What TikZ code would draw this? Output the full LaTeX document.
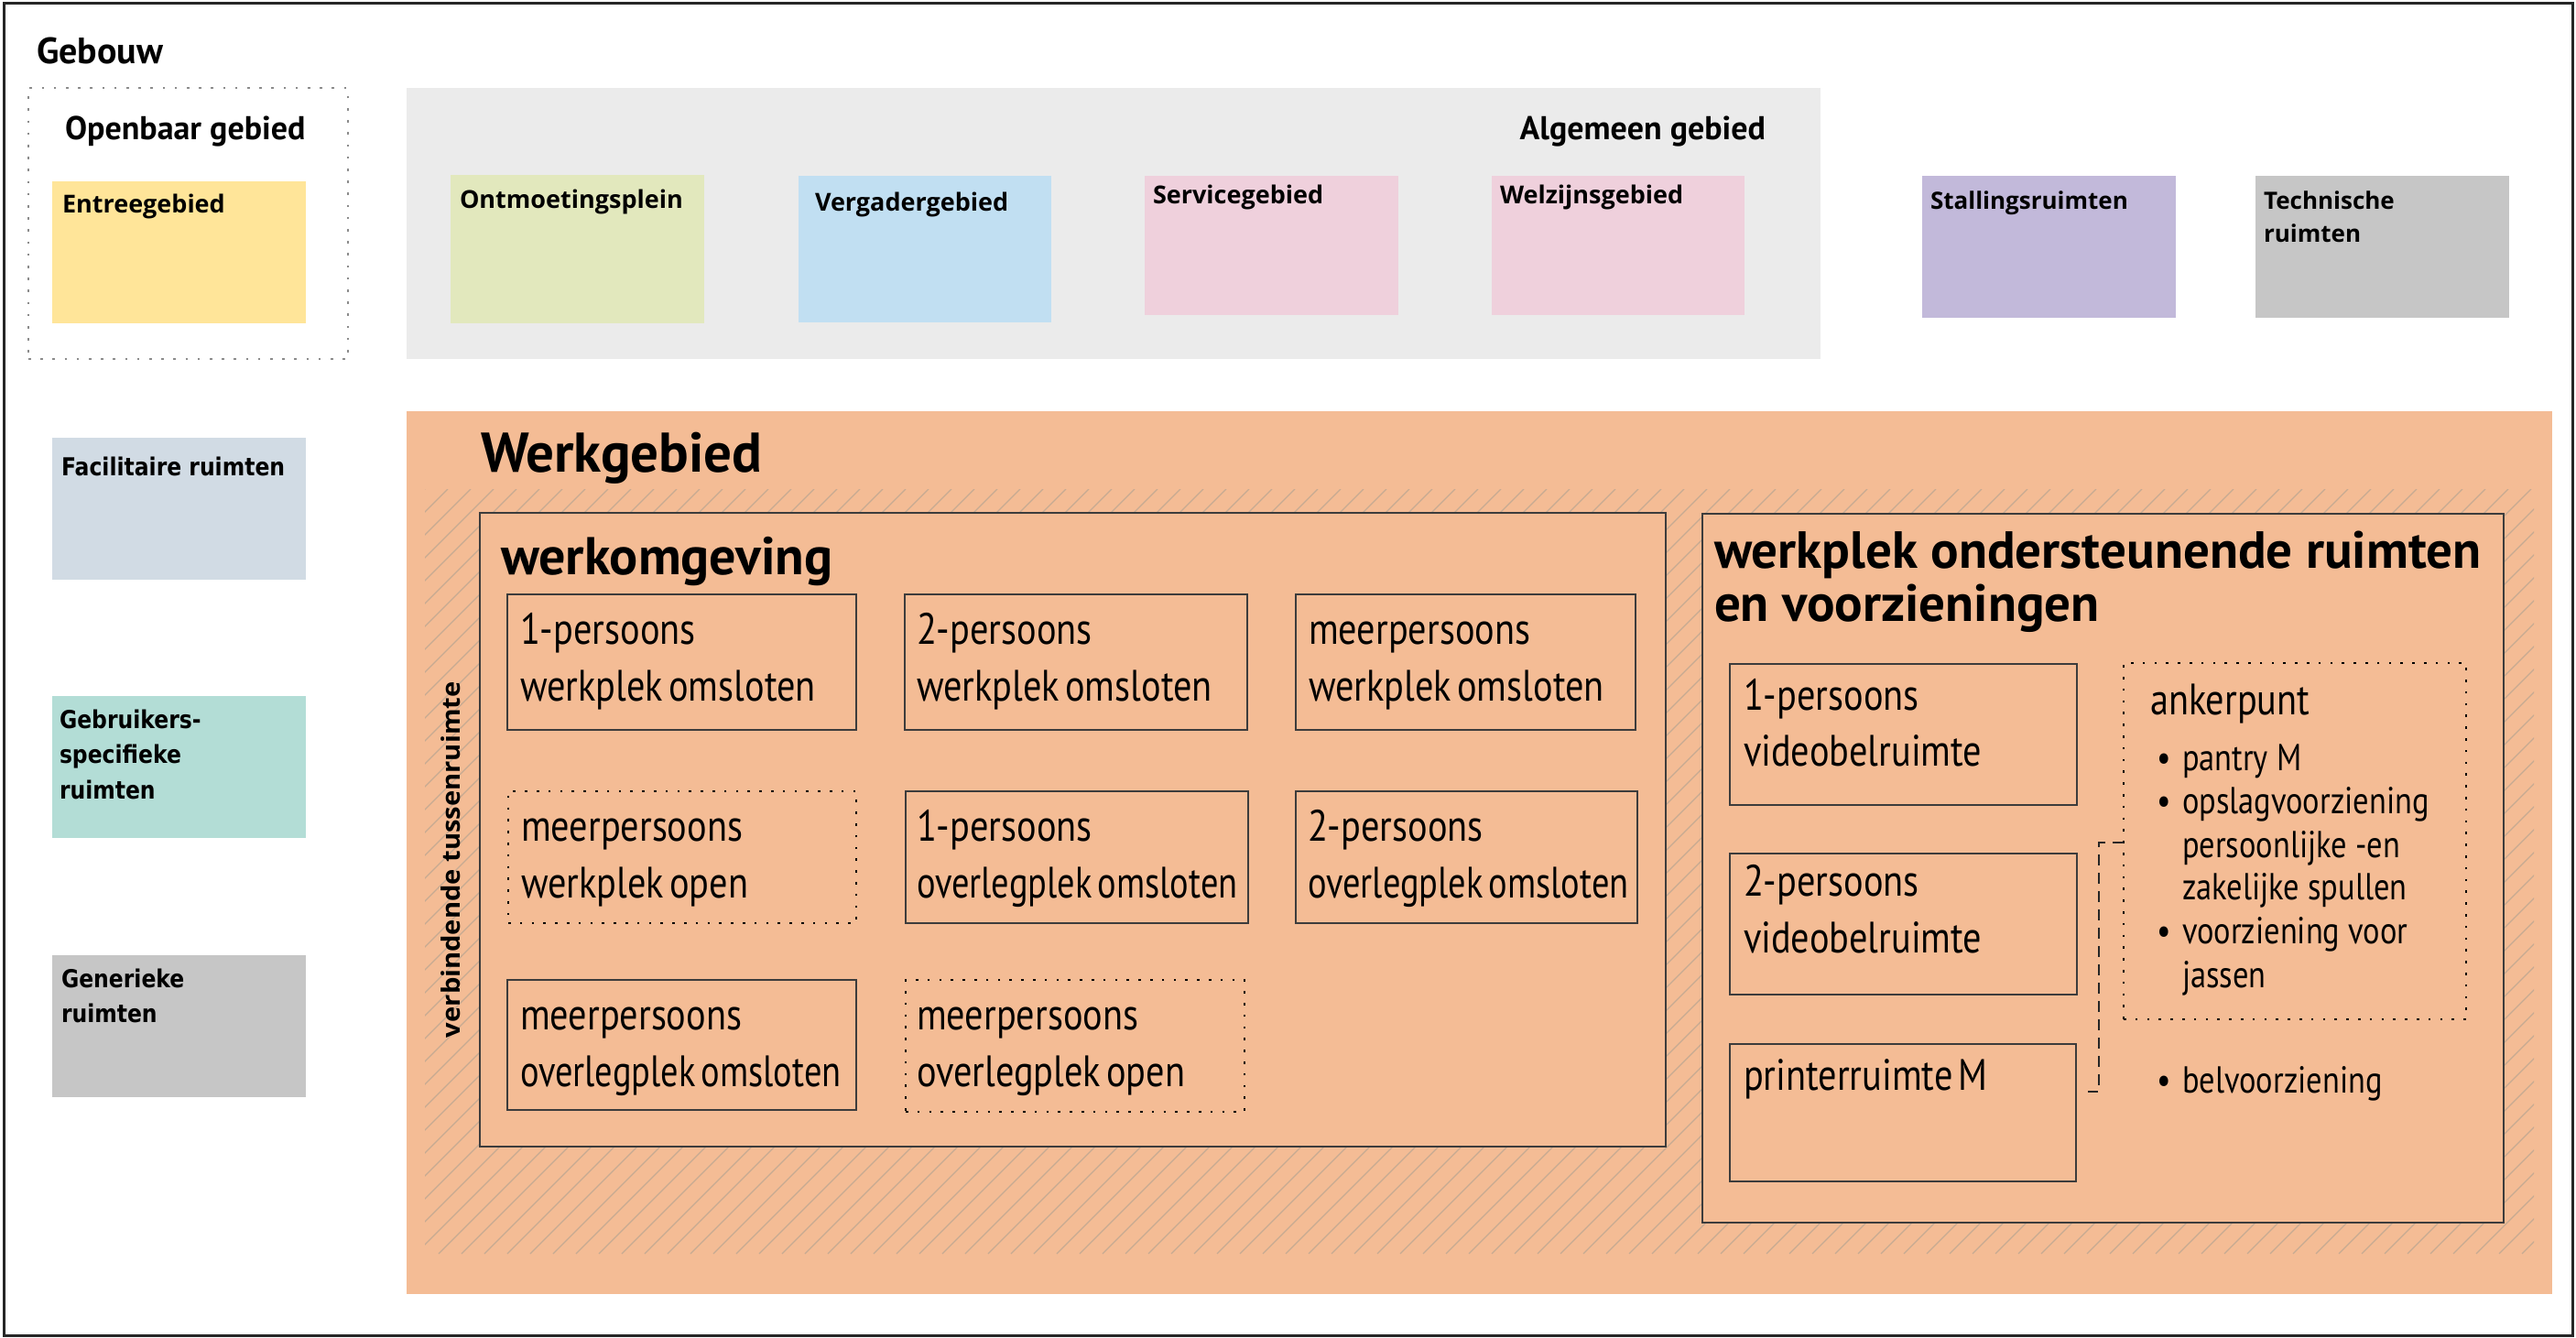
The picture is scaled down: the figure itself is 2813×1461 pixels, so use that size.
\documentclass[tikz,border=0pt]{standalone}
\usepackage{fontspec}
\newfontfamily\rs[FakeStretch=0.84]{PT Sans}
\newfontfamily\rsn[FakeStretch=0.80]{PT Sans}
\newfontfamily\ptb{PT Sans}
\newfontfamily\osb{Open Sans}
\newfontfamily\osv[FakeStretch=1.06]{Open Sans}
\newfontfamily\vdb[FakeStretch=0.87]{DejaVu Sans}
\newcommand\tightsp{\spaceskip=0.13em\relax}
\usetikzlibrary{calc}
\definecolor{cEntree}{HTML}{FFE599}
\definecolor{cOntm}{HTML}{E2E8BD}
\definecolor{cVerg}{HTML}{C1DFF2}
\definecolor{cServ}{HTML}{EFD0DC}
\definecolor{cStal}{HTML}{C2B9DA}
\definecolor{cTech}{HTML}{C6C6C6}
\definecolor{cFac}{HTML}{D1DBE4}
\definecolor{cGebr}{HTML}{B3DDD6}
\definecolor{cAlg}{HTML}{EBEBEB}
\definecolor{cOr}{HTML}{F4BC95}
\definecolor{cHatch}{HTML}{C6AA92}
\definecolor{cLine}{HTML}{3C3C3C}
\begin{document}
\begin{tikzpicture}[x=1pt,y=-1pt,
  zone/.style={rectangle, inner sep=0pt, outer sep=0pt, anchor=north west, draw=none},
  ibox/.style={zone, fill=cOr, draw=cLine, line width=1.8pt},
  dotbox/.style={zone, draw=black, line width=2.6pt, dash pattern=on 2.6pt off 10.2pt},
  dotgray/.style={zone, draw=black!45, line width=2.6pt, dash pattern=on 2.6pt off 10.6pt},
  hatchline/.style={draw=cHatch, line width=1.2pt},
  dashcon/.style={draw=black!85, line width=2pt, dash pattern=on 12pt off 8pt},
  txt/.style={inner sep=0pt, outer sep=0pt, anchor=base west},
  boxtxt/.style={txt, font={\rs\fontsize{48}{58}\selectfont\tightsp}},
  boxtxtn/.style={txt, font={\rsn\fontsize{48}{58}\selectfont\tightsp}},
  bultxt/.style={txt, font={\rs\fontsize{41}{48}\selectfont}},
  lbl/.style={txt, font={\osb\bfseries\fontsize{27}{32}\selectfont}},
  leftlbl/.style={txt, font={\vdb\bfseries\fontsize{27}{32}\selectfont}},
  headA/.style={txt, font={\ptb\bfseries\fontsize{36}{42}\selectfont}},
  headB/.style={txt, font={\ptb\bfseries\fontsize{57}{62}\selectfont}},
]
\useasboundingbox (0,0) rectangle (2813,1461);
% outer frame
\node[zone, draw=black!85, line width=3pt, minimum width=2804.5, minimum height=1455] (frame) at (4.5,3.5) {};
\node[txt, font={\ptb\bfseries\fontsize{40}{46}\selectfont}] (gebouw) at (40,70) {Gebouw};

% openbaar gebied
\node[dotgray, minimum width=349, minimum height=296] (openb) at (31,96) {};
\node[headA] (openbT) at (71,153) {Openbaar gebied};
\node[zone, fill=cEntree, minimum width=277, minimum height=155] (entree) at (57,198) {};
\node[lbl] (entreeT) at (68,232) {Entreegebied};

% algemeen gebied
\node[zone, fill=cAlg, minimum width=1544, minimum height=296] (alg) at (444,96) {};
\node[headA, anchor=base east] (algT) at (1928,153) {Algemeen gebied};
\node[zone, fill=cOntm, minimum width=277, minimum height=162] (ontm) at (492,191) {};
\node[lbl] (ontmT) at (502,227) {Ontmoetingsplein};
\node[zone, fill=cVerg, minimum width=276, minimum height=160] (verg) at (872,192) {};
\node[lbl] (vergT) at (890,230) {Vergadergebied};
\node[zone, fill=cServ, minimum width=277, minimum height=152] (serv) at (1250,192) {};
\node[lbl] (servT) at (1259,222) {Servicegebied};
\node[zone, fill=cServ, minimum width=276, minimum height=152] (welz) at (1629,192) {};
\node[lbl] (welzT) at (1638,222) {Welzijnsgebied};

% stalling / technische
\node[zone, fill=cStal, minimum width=277, minimum height=155] (stal) at (2099,192) {};
\node[lbl, font={\osb\bfseries\fontsize{26}{32}\selectfont}] (stalT) at (2108,228) {Stallingsruimten};
\node[zone, fill=cTech, minimum width=277, minimum height=155] (tech) at (2463,192) {};
\node[lbl, font={\osb\bfseries\fontsize{26}{32}\selectfont}] (techT1) at (2472,228) {Technische};
\node[lbl, font={\osb\bfseries\fontsize{26}{32}\selectfont}] (techT2) at (2472,264) {ruimten};

% left column
\node[zone, fill=cFac, minimum width=277, minimum height=155] (fac) at (57,478) {};
\node[leftlbl] (facT) at (67,519) {Facilitaire ruimten};
\node[zone, fill=cGebr, minimum width=277, minimum height=155] (gebr) at (57,760) {};
\node[leftlbl] (gebrT1) at (65,795) {Gebruikers-};
\node[leftlbl] (gebrT2) at (65,833) {specifieke};
\node[leftlbl] (gebrT3) at (65,872) {ruimten};
\node[zone, fill=cTech, minimum width=277, minimum height=155] (gen) at (57,1043) {};
\node[leftlbl] (genT1) at (67,1078) {Generieke};
\node[leftlbl] (genT2) at (67,1116) {ruimten};

% werkgebied
\node[zone, fill=cOr, minimum width=2343, minimum height=964] (werk) at (444,449) {};
\node[txt, font={\ptb\bfseries\fontsize{61}{70}\selectfont}] (werkT) at (525,515) {Werkgebied};
\begin{scope}
  \clip (464,534) rectangle (2767,1369);
  \foreach \i in {0,...,126} \draw[hatchline] ({-371+\i*25},1369) -- ++(835,-835);
\end{scope}
\node[txt, rotate=90, font={\osv\bfseries\fontsize{27.5}{32}\selectfont}] (verb) at (502,1133) {verbindende tussenruimte};

% werkomgeving
\node[ibox, minimum width=1295, minimum height=692] (wo) at (524,560) {};
\node[headB, font={\ptb\bfseries\fontsize{58}{62}\selectfont}] (woT) at (547,627) {werkomgeving};
\node[ibox, minimum width=381, minimum height=148] (a1) at (554,649) {};
\node[boxtxt] (a1t1) at (568,703) {1-persoons};
\node[boxtxt] (a1t2) at (568,765) {werkplek omsloten};
\node[ibox, minimum width=374, minimum height=148] (b1) at (988,649) {};
\node[boxtxt] (b1t1) at (1001,703) {2-persoons};
\node[boxtxt] (b1t2) at (1001,765) {werkplek omsloten};
\node[ibox, minimum width=371, minimum height=148] (c1) at (1415,649) {};
\node[boxtxt] (c1t1) at (1429,703) {meerpersoons};
\node[boxtxt] (c1t2) at (1429,765) {werkplek omsloten};
\node[dotbox, minimum width=380, minimum height=144] (a2) at (555,864) {};
\node[boxtxt] (a2t1) at (569,918) {meerpersoons};
\node[boxtxt] (a2t2) at (569,980) {werkplek open};
\node[ibox, minimum width=374, minimum height=144] (b2) at (989,864) {};
\node[boxtxt] (b2t1) at (1001,918) {1-persoons};
\node[boxtxtn] (b2t2) at (1001,980) {overlegplek omsloten};
\node[ibox, minimum width=373, minimum height=144] (c2) at (1415,864) {};
\node[boxtxt] (c2t1) at (1428,918) {2-persoons};
\node[boxtxtn] (c2t2) at (1428,980) {overlegplek omsloten};
\node[ibox, minimum width=381, minimum height=142] (a3) at (554,1070) {};
\node[boxtxt] (a3t1) at (568,1124) {meerpersoons};
\node[boxtxtn] (a3t2) at (568,1186) {overlegplek omsloten};
\node[dotbox, minimum width=370, minimum height=144] (b3) at (989,1070) {};
\node[boxtxt] (b3t1) at (1001,1124) {meerpersoons};
\node[boxtxt] (b3t2) at (1001,1186) {overlegplek open};

% werkplek ondersteunende ruimten
\node[ibox, minimum width=875, minimum height=774] (wp) at (1859,561) {};
\node[headB] (wpT1) at (1872,620) {werkplek ondersteunende ruimten};
\node[headB] (wpT2) at (1872,678) {en voorzieningen};
\node[ibox, minimum width=379, minimum height=154] (v1) at (1889,725) {};
\node[boxtxt] (v1t1) at (1904,775) {1-persoons};
\node[boxtxt] (v1t2) at (1904,836) {videobelruimte};
\node[ibox, minimum width=379, minimum height=154] (v2) at (1889,932) {};
\node[boxtxt] (v2t1) at (1904,978) {2-persoons};
\node[boxtxt] (v2t2) at (1904,1040) {videobelruimte};
\node[ibox, minimum width=378, minimum height=150] (pr) at (1889,1140) {};
\node[boxtxt] (prt) at (1904,1190) {printerruimte M};
\node[dotbox, minimum width=374, minimum height=389] (anker) at (2319,724) {};
\node[boxtxt] (ankerT) at (2348,780) {ankerpunt};
\node[bultxt] (bu1) at (2355,841) {\makebox[28pt][l]{•}pantry M};
\node[bultxt] (bu2) at (2355,888) {\makebox[28pt][l]{•}opslagvoorziening};
\node[bultxt] (bu3) at (2383,936) {persoonlijke -en};
\node[bultxt] (bu4) at (2383,982) {zakelijke spullen};
\node[bultxt] (bu5) at (2355,1030) {\makebox[28pt][l]{•}voorziening voor};
\node[bultxt] (bu6) at (2383,1078) {jassen};
\node[bultxt] (bu7) at (2355,1193) {\makebox[28pt][l]{•}belvoorziening};
\coordinate (dEnd) at (2280,1192);
\draw[dashcon] ($(anker.north west)+(0,196)$) -- ++(-27,0) |- (dEnd);
\end{tikzpicture}
\end{document}
